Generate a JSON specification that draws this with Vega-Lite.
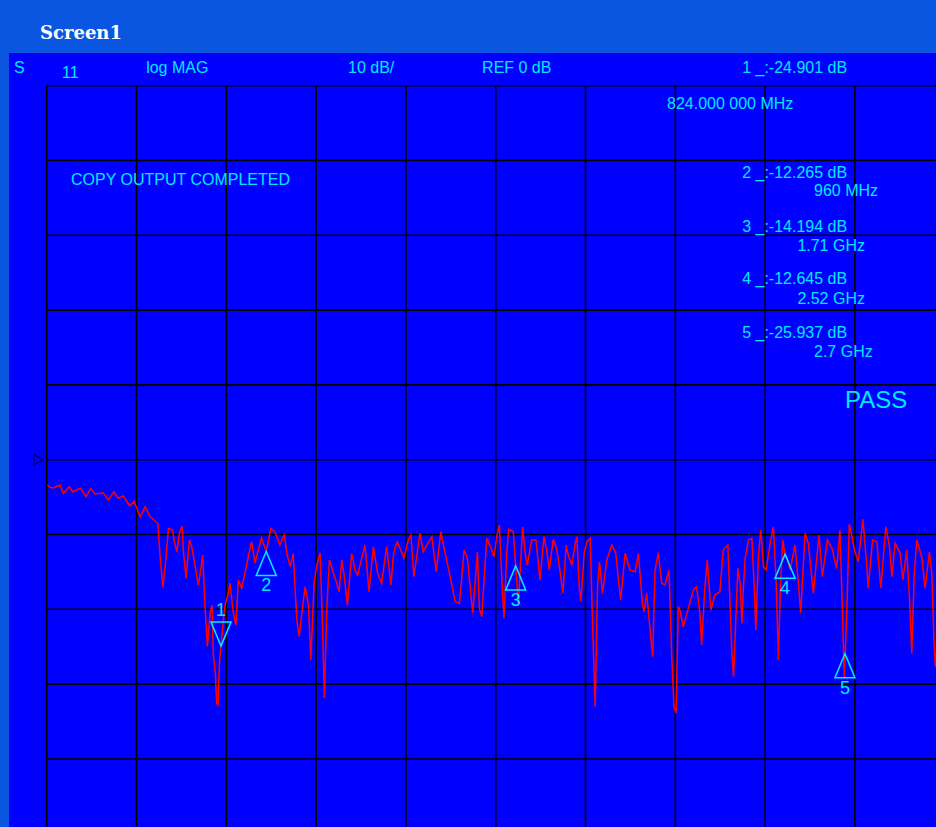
{
  "$schema": "https://vega.github.io/schema/vega-lite/v6.json",
  "width": 927,
  "height": 774,
  "autosize": {"type": "none"},
  "padding": {"left": 9, "top": 53, "right": 0, "bottom": 0},
  "background": "#0A56E0",
  "title": {
    "text": "Screen1",
    "anchor": "start",
    "frame": "group",
    "dx": 31,
    "dy": 17,
    "offset": 13,
    "baseline": "alphabetic",
    "font": "DejaVu Serif",
    "fontSize": 18,
    "fontWeight": "bold",
    "color": "#FFFFFF"
  },
  "config": {
    "view": {"fill": "#0000FF", "stroke": null}
  },
  "datasets": {
    "vgrid": [{"f": 300}, {"f": 570}, {"f": 840}, {"f": 1110}, {"f": 1380}, {"f": 1650}, {"f": 1920}, {"f": 2190}, {"f": 2460}, {"f": 2730}, {"f": 3000}],
    "hgrid": [{"db": 50}, {"db": 40}, {"db": 30}, {"db": 20}, {"db": 10}, {"db": 0}, {"db": -10}, {"db": -20}, {"db": -30}, {"db": -40}, {"db": -50}],
    "ref": [{"f": 275, "db": 0}],
    "trace": [
      {"f": 302, "db": -3.38}, {"f": 310, "db": -3.69}, {"f": 320, "db": -3.78}, {"f": 340, "db": -3.38},
      {"f": 350, "db": -4.49}, {"f": 368, "db": -3.61}, {"f": 378, "db": -4.28}, {"f": 402, "db": -3.82},
      {"f": 418, "db": -4.95}, {"f": 432, "db": -3.82}, {"f": 445, "db": -4.59}, {"f": 470, "db": -4.41},
      {"f": 485, "db": -5.39}, {"f": 502, "db": -4.28}, {"f": 515, "db": -5.16}, {"f": 530, "db": -4.85},
      {"f": 550, "db": -6.19}, {"f": 563, "db": -5.61}, {"f": 581, "db": -7.62}, {"f": 596, "db": -6.28},
      {"f": 611, "db": -7.62}, {"f": 634, "db": -8.5}, {"f": 641, "db": -12.97}, {"f": 649, "db": -17.06},
      {"f": 659, "db": -12.97}, {"f": 666, "db": -9.17}, {"f": 678, "db": -9.4}, {"f": 683, "db": -10.74},
      {"f": 691, "db": -12.3}, {"f": 699, "db": -9.84}, {"f": 707, "db": -8.86}, {"f": 711, "db": -12.3},
      {"f": 719, "db": -15.86}, {"f": 729, "db": -10.74}, {"f": 736, "db": -11.63}, {"f": 743, "db": -13.41},
      {"f": 756, "db": -16.75}, {"f": 763, "db": -14.75}, {"f": 769, "db": -12.74}, {"f": 776, "db": -19.65},
      {"f": 783, "db": -25.0}, {"f": 791, "db": -20.53}, {"f": 797, "db": -19.43}, {"f": 801, "db": -26.11},
      {"f": 807, "db": -28.5}, {"f": 811, "db": -32.57}, {"f": 815, "db": -32.79}, {"f": 819, "db": -27.6},
      {"f": 821, "db": -26.3}, {"f": 824, "db": -24.9}, {"f": 831, "db": -21.5}, {"f": 836, "db": -19.5},
      {"f": 846, "db": -17.86}, {"f": 851, "db": -16.48}, {"f": 861, "db": -20.49}, {"f": 869, "db": -22.1},
      {"f": 876, "db": -16.08}, {"f": 886, "db": -17.15}, {"f": 896, "db": -15.15}, {"f": 906, "db": -12.97},
      {"f": 916, "db": -10.96}, {"f": 926, "db": -13.81}, {"f": 936, "db": -12.07}, {"f": 946, "db": -10.47},
      {"f": 960, "db": -12.27}, {"f": 974, "db": -9.17}, {"f": 986, "db": -9.63}, {"f": 1001, "db": -11.4},
      {"f": 1014, "db": -10.07}, {"f": 1023, "db": -12.74}, {"f": 1032, "db": -14.3}, {"f": 1041, "db": -12.51},
      {"f": 1052, "db": -21.43}, {"f": 1059, "db": -23.66}, {"f": 1067, "db": -20.53}, {"f": 1077, "db": -16.98},
      {"f": 1087, "db": -19.43}, {"f": 1094, "db": -26.78}, {"f": 1104, "db": -16.48}, {"f": 1112, "db": -14.08},
      {"f": 1122, "db": -12.47}, {"f": 1129, "db": -21.83}, {"f": 1135, "db": -31.86}, {"f": 1142, "db": -20.09},
      {"f": 1150, "db": -13.41}, {"f": 1159, "db": -14.75}, {"f": 1172, "db": -16.48}, {"f": 1179, "db": -17.65},
      {"f": 1187, "db": -13.41}, {"f": 1195, "db": -15.64}, {"f": 1204, "db": -19.43}, {"f": 1217, "db": -12.51},
      {"f": 1227, "db": -14.75}, {"f": 1235, "db": -15.41}, {"f": 1257, "db": -11.4}, {"f": 1269, "db": -17.65},
      {"f": 1282, "db": -11.63}, {"f": 1295, "db": -15.19}, {"f": 1307, "db": -16.52}, {"f": 1322, "db": -11.63},
      {"f": 1335, "db": -16.75}, {"f": 1342, "db": -12.97}, {"f": 1347, "db": -11.8}, {"f": 1354, "db": -10.96},
      {"f": 1374, "db": -13.14}, {"f": 1387, "db": -10.74}, {"f": 1395, "db": -10.07}, {"f": 1404, "db": -15.64},
      {"f": 1422, "db": -9.84}, {"f": 1432, "db": -12.3}, {"f": 1443, "db": -11.4}, {"f": 1458, "db": -10.29},
      {"f": 1471, "db": -14.97}, {"f": 1485, "db": -9.63}, {"f": 1498, "db": -12.51}, {"f": 1513, "db": -15.64},
      {"f": 1528, "db": -18.98}, {"f": 1541, "db": -19.2}, {"f": 1555, "db": -12.07}, {"f": 1565, "db": -13.18},
      {"f": 1573, "db": -16.98}, {"f": 1581, "db": -20.53}, {"f": 1595, "db": -12.3}, {"f": 1601, "db": -19.87},
      {"f": 1608, "db": -20.99}, {"f": 1623, "db": -10.51}, {"f": 1638, "db": -12.07}, {"f": 1645, "db": -12.97},
      {"f": 1653, "db": -10.29}, {"f": 1661, "db": -8.73}, {"f": 1671, "db": -18.32}, {"f": 1675, "db": -21.2},
      {"f": 1683, "db": -12.51}, {"f": 1689, "db": -9.3}, {"f": 1703, "db": -9.63}, {"f": 1710, "db": -14.19},
      {"f": 1718, "db": -19.2}, {"f": 1731, "db": -8.96}, {"f": 1738, "db": -12.3}, {"f": 1745, "db": -14.08},
      {"f": 1758, "db": -10.74}, {"f": 1771, "db": -10.74}, {"f": 1783, "db": -16.08}, {"f": 1795, "db": -10.29},
      {"f": 1803, "db": -12.07}, {"f": 1811, "db": -14.75}, {"f": 1823, "db": -10.64}, {"f": 1833, "db": -11.84},
      {"f": 1843, "db": -14.75}, {"f": 1852, "db": -17.86}, {"f": 1862, "db": -11.4}, {"f": 1868, "db": -12.74},
      {"f": 1879, "db": -14.08}, {"f": 1889, "db": -11.18}, {"f": 1894, "db": -10.29}, {"f": 1901, "db": -16.98},
      {"f": 1906, "db": -18.98}, {"f": 1916, "db": -12.51}, {"f": 1924, "db": -10.96}, {"f": 1934, "db": -10.51},
      {"f": 1941, "db": -21.66}, {"f": 1949, "db": -33.02}, {"f": 1956, "db": -16.98}, {"f": 1962, "db": -13.64},
      {"f": 1971, "db": -17.86}, {"f": 1984, "db": -13.41}, {"f": 1999, "db": -11.4}, {"f": 2011, "db": -12.51},
      {"f": 2019, "db": -16.08}, {"f": 2026, "db": -18.76}, {"f": 2039, "db": -12.51}, {"f": 2054, "db": -14.75},
      {"f": 2069, "db": -14.97}, {"f": 2079, "db": -12.51}, {"f": 2091, "db": -19.2}, {"f": 2096, "db": -20.32},
      {"f": 2104, "db": -17.86}, {"f": 2117, "db": -24.1}, {"f": 2122, "db": -26.34}, {"f": 2129, "db": -14.75},
      {"f": 2139, "db": -12.43}, {"f": 2149, "db": -16.52}, {"f": 2159, "db": -16.75}, {"f": 2171, "db": -14.75},
      {"f": 2179, "db": -25.88}, {"f": 2186, "db": -33.02}, {"f": 2192, "db": -33.9}, {"f": 2199, "db": -19.65},
      {"f": 2204, "db": -20.09}, {"f": 2214, "db": -22.33}, {"f": 2229, "db": -19.87}, {"f": 2244, "db": -17.42},
      {"f": 2254, "db": -16.98}, {"f": 2264, "db": -20.53}, {"f": 2269, "db": -24.77}, {"f": 2279, "db": -16.98},
      {"f": 2286, "db": -13.41}, {"f": 2297, "db": -20.09}, {"f": 2309, "db": -18.09}, {"f": 2324, "db": -17.65},
      {"f": 2334, "db": -12.07}, {"f": 2348, "db": -11.4}, {"f": 2360, "db": -25.88}, {"f": 2365, "db": -29.01},
      {"f": 2378, "db": -14.52}, {"f": 2385, "db": -16.52}, {"f": 2390, "db": -21.87}, {"f": 2395, "db": -16.98},
      {"f": 2400, "db": -13.18}, {"f": 2410, "db": -10.74}, {"f": 2420, "db": -10.51}, {"f": 2427, "db": -16.75},
      {"f": 2432, "db": -22.77}, {"f": 2440, "db": -12.74}, {"f": 2447, "db": -9.4}, {"f": 2455, "db": -14.3},
      {"f": 2463, "db": -14.75}, {"f": 2475, "db": -11.18}, {"f": 2485, "db": -8.96}, {"f": 2493, "db": -16.08},
      {"f": 2500, "db": -26.78}, {"f": 2505, "db": -18.32}, {"f": 2513, "db": -10.74}, {"f": 2520, "db": -12.65},
      {"f": 2525, "db": -12.97}, {"f": 2535, "db": -14.75}, {"f": 2550, "db": -11.4}, {"f": 2560, "db": -16.52},
      {"f": 2567, "db": -20.53}, {"f": 2580, "db": -9.84}, {"f": 2590, "db": -11.18}, {"f": 2605, "db": -17.86},
      {"f": 2622, "db": -10.07}, {"f": 2632, "db": -15.64}, {"f": 2647, "db": -10.74}, {"f": 2661, "db": -11.84},
      {"f": 2675, "db": -14.52}, {"f": 2685, "db": -9.4}, {"f": 2692, "db": -19.65}, {"f": 2698, "db": -29.01},
      {"f": 2701, "db": -25.94}, {"f": 2706, "db": -19.65}, {"f": 2713, "db": -8.6}, {"f": 2721, "db": -10.29},
      {"f": 2730, "db": -12.3}, {"f": 2740, "db": -13.64}, {"f": 2754, "db": -7.97}, {"f": 2766, "db": -14.3},
      {"f": 2770, "db": -17.19}, {"f": 2783, "db": -10.74}, {"f": 2796, "db": -10.96}, {"f": 2808, "db": -17.19},
      {"f": 2823, "db": -8.96}, {"f": 2834, "db": -11.63}, {"f": 2841, "db": -15.64}, {"f": 2851, "db": -11.18},
      {"f": 2866, "db": -12.51}, {"f": 2874, "db": -16.08}, {"f": 2886, "db": -12.07}, {"f": 2894, "db": -18.53},
      {"f": 2901, "db": -25.88}, {"f": 2908, "db": -15.64}, {"f": 2916, "db": -10.74}, {"f": 2931, "db": -12.97},
      {"f": 2941, "db": -17.19}, {"f": 2954, "db": -12.3}, {"f": 2961, "db": -15.19}, {"f": 2968, "db": -24.55},
      {"f": 2972, "db": -27.67}, {"f": 2985, "db": -18.0}
    ],
    "markers": [
      {"n": "1", "f": 824, "db": -24.901, "dir": "down"},
      {"n": "2", "f": 960, "db": -12.265, "dir": "up"},
      {"n": "3", "f": 1710, "db": -14.194, "dir": "up"},
      {"n": "4", "f": 2520, "db": -12.645, "dir": "up"},
      {"n": "5", "f": 2700, "db": -25.937, "dir": "up"}
    ],
    "labels": [
      {"t": "S", "f": 202, "db": 52.37},
      {"t": "11", "f": 346, "db": 51.7},
      {"t": "log MAG", "f": 599, "db": 52.37},
      {"t": "10 dB/", "f": 1206, "db": 52.37},
      {"t": "REF 0 dB", "f": 1609, "db": 52.37},
      {"t": "1 _:-24.901 dB", "f": 2391, "db": 52.37},
      {"t": "824.000 000 MHz", "f": 2165, "db": 47.55},
      {"t": "COPY OUTPUT COMPLETED", "f": 373, "db": 37.39},
      {"t": "2 _:-12.265 dB", "f": 2391, "db": 38.3},
      {"t": "960 MHz", "f": 2607, "db": 35.96},
      {"t": "3 _:-14.194 dB", "f": 2391, "db": 31.06},
      {"t": "1.71 GHz", "f": 2557, "db": 28.6},
      {"t": "4 _:-12.645 dB", "f": 2391, "db": 24.12},
      {"t": "2.52 GHz", "f": 2557, "db": 21.52},
      {"t": "5 _:-25.937 dB", "f": 2391, "db": 16.9},
      {"t": "2.7 GHz", "f": 2607, "db": 14.43}
    ],
    "status": [{"t": "PASS", "f": 2700, "db": 7.85}]
  },
  "layer": [
    {
      "data": {"name": "vgrid"},
      "mark": {"type": "rule", "color": "#000000", "strokeWidth": 1.6, "clip": true},
      "encoding": {
        "x": {"field": "f", "type": "quantitative", "axis": null, "scale": {"domain": [186.6, 2973.8], "nice": false, "zero": false}},
        "y": {"datum": 50, "type": "quantitative", "axis": null, "scale": {"domain": [-49.1, 54.37], "nice": false, "zero": false}},
        "y2": {"datum": -55}
      }
    },
    {
      "data": {"name": "hgrid"},
      "mark": {"type": "rule", "color": "#000000", "strokeWidth": 1.6, "clip": true},
      "encoding": {
        "y": {"field": "db", "type": "quantitative", "axis": null, "scale": {"domain": [-49.1, 54.37], "nice": false, "zero": false}},
        "x": {"datum": 300, "type": "quantitative", "axis": null, "scale": {"domain": [186.6, 2973.8], "nice": false, "zero": false}},
        "x2": {"datum": 3100}
      }
    },
    {
      "data": {"name": "ref"},
      "mark": {"type": "point", "shape": "triangle-right", "size": 110, "filled": false, "stroke": "#000000", "strokeWidth": 1.2},
      "encoding": {
        "x": {"field": "f", "type": "quantitative", "axis": null, "scale": {"domain": [186.6, 2973.8], "nice": false, "zero": false}},
        "y": {"field": "db", "type": "quantitative", "axis": null, "scale": {"domain": [-49.1, 54.37], "nice": false, "zero": false}}
      }
    },
    {
      "data": {"name": "trace"},
      "mark": {"type": "line", "color": "#FF0000", "strokeWidth": 1.5, "clip": true},
      "encoding": {
        "x": {"field": "f", "type": "quantitative", "axis": null, "scale": {"domain": [186.6, 2973.8], "nice": false, "zero": false}},
        "y": {"field": "db", "type": "quantitative", "axis": null, "scale": {"domain": [-49.1, 54.37], "nice": false, "zero": false}}
      }
    },
    {
      "data": {"name": "markers"},
      "mark": {"type": "point", "filled": false, "size": 400, "strokeWidth": 1.5, "opacity": 1},
      "encoding": {
        "x": {"field": "f", "type": "quantitative", "axis": null, "scale": {"domain": [186.6, 2973.8], "nice": false, "zero": false}},
        "y": {"field": "db", "type": "quantitative", "axis": null, "scale": {"domain": [-49.1, 54.37], "nice": false, "zero": false}},
        "shape": {"field": "dir", "type": "nominal", "legend": null, "scale": {"domain": ["up", "down"], "range": ["M0,0L-1,2.4L1,2.4Z", "M0,0L-1,-2.4L1,-2.4Z"]}},
        "stroke": {"value": "#00F0FF"}
      }
    },
    {
      "data": {"name": "markers"},
      "transform": [{"filter": "datum.dir === 'up'"}],
      "mark": {"type": "text", "dy": 35, "baseline": "middle", "align": "center", "font": "Liberation Sans, sans-serif", "fontSize": 18, "color": "#00E8FF"},
      "encoding": {
        "x": {"field": "f", "type": "quantitative", "axis": null, "scale": {"domain": [186.6, 2973.8], "nice": false, "zero": false}},
        "y": {"field": "db", "type": "quantitative", "axis": null, "scale": {"domain": [-49.1, 54.37], "nice": false, "zero": false}},
        "text": {"field": "n"}
      }
    },
    {
      "data": {"name": "markers"},
      "transform": [{"filter": "datum.dir === 'down'"}],
      "mark": {"type": "text", "dy": -35, "baseline": "middle", "align": "center", "font": "Liberation Sans, sans-serif", "fontSize": 18, "color": "#00E8FF"},
      "encoding": {
        "x": {"field": "f", "type": "quantitative", "axis": null, "scale": {"domain": [186.6, 2973.8], "nice": false, "zero": false}},
        "y": {"field": "db", "type": "quantitative", "axis": null, "scale": {"domain": [-49.1, 54.37], "nice": false, "zero": false}},
        "text": {"field": "n"}
      }
    },
    {
      "data": {"name": "labels"},
      "mark": {"type": "text", "baseline": "middle", "align": "left", "font": "Liberation Sans, sans-serif", "fontSize": 16, "color": "#00E8FF"},
      "encoding": {
        "x": {"field": "f", "type": "quantitative", "axis": null, "scale": {"domain": [186.6, 2973.8], "nice": false, "zero": false}},
        "y": {"field": "db", "type": "quantitative", "axis": null, "scale": {"domain": [-49.1, 54.37], "nice": false, "zero": false}},
        "text": {"field": "t"}
      }
    },
    {
      "data": {"name": "status"},
      "mark": {"type": "text", "baseline": "middle", "align": "left", "font": "Liberation Sans, sans-serif", "fontSize": 24, "color": "#00E8FF"},
      "encoding": {
        "x": {"field": "f", "type": "quantitative", "axis": null, "scale": {"domain": [186.6, 2973.8], "nice": false, "zero": false}},
        "y": {"field": "db", "type": "quantitative", "axis": null, "scale": {"domain": [-49.1, 54.37], "nice": false, "zero": false}},
        "text": {"field": "t"}
      }
    }
  ]
}
